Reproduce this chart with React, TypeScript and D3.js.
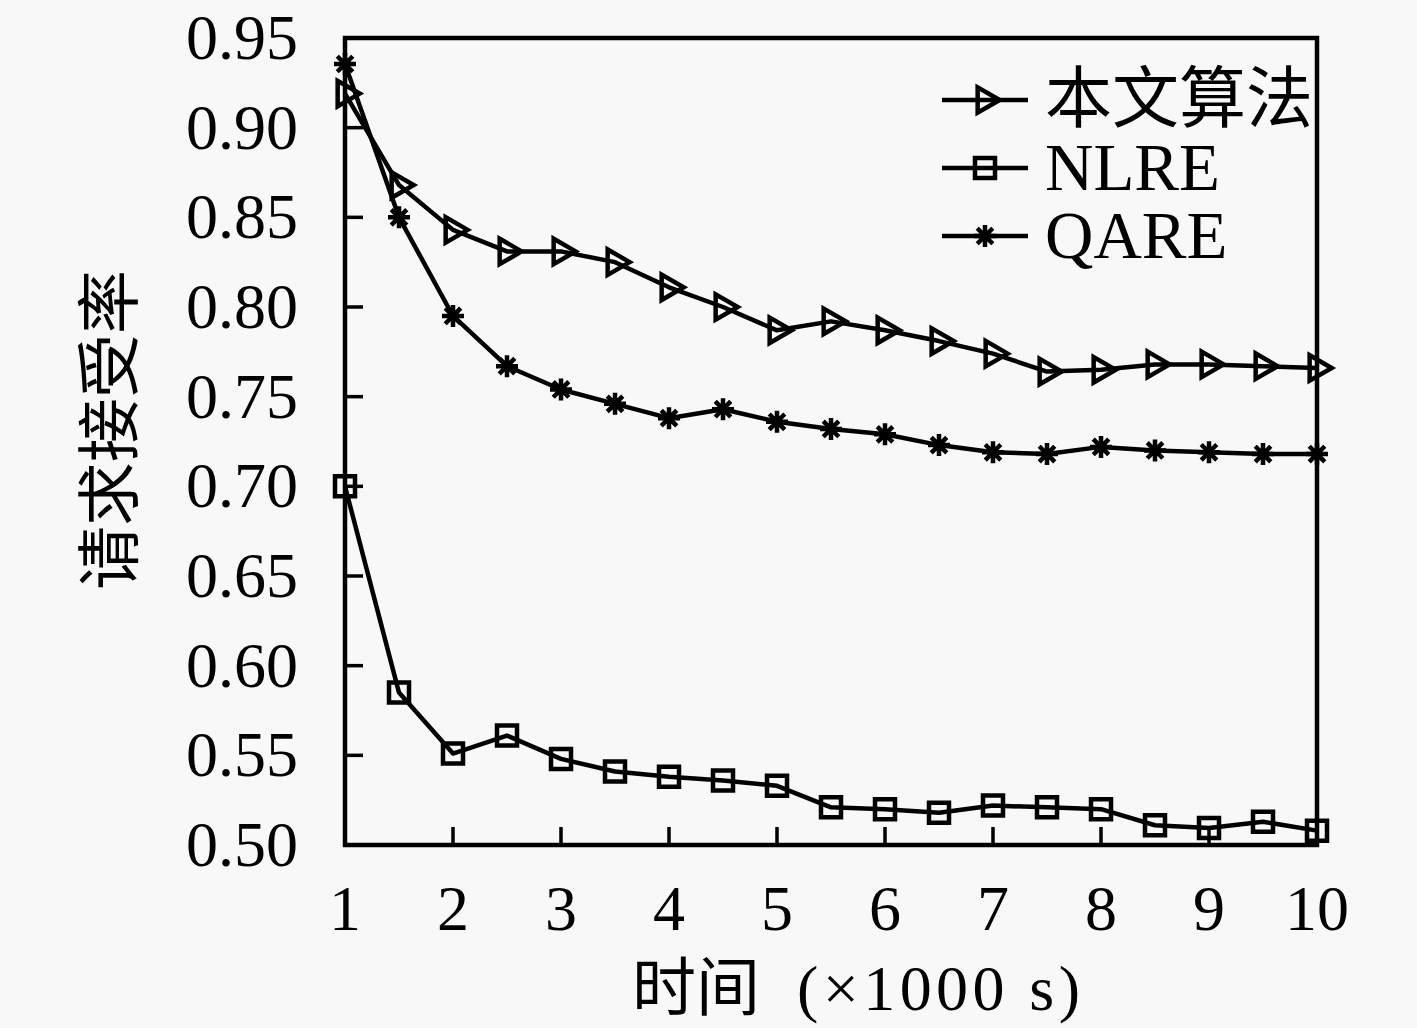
import React from "react";
import * as d3 from "d3";

const xs = [1, 1.5, 2, 2.5, 3, 3.5, 4, 4.5, 5, 5.5, 6, 6.5, 7, 7.5, 8, 8.5, 9, 9.5, 10];
const ours = [0.919, 0.868, 0.843, 0.831, 0.831, 0.825, 0.811, 0.800, 0.787, 0.792, 0.787, 0.781, 0.774, 0.764, 0.765, 0.768, 0.768, 0.767, 0.766];
const nlre = [0.700, 0.585, 0.551, 0.561, 0.548, 0.541, 0.538, 0.536, 0.533, 0.521, 0.520, 0.518, 0.522, 0.521, 0.520, 0.511, 0.5095, 0.513, 0.508];
const qare = [0.9355, 0.850, 0.795, 0.767, 0.754, 0.746, 0.738, 0.743, 0.736, 0.732, 0.729, 0.723, 0.719, 0.718, 0.722, 0.720, 0.719, 0.718, 0.718];
const yTicks = [0.5, 0.55, 0.6, 0.65, 0.7, 0.75, 0.8, 0.85, 0.9, 0.95];
const xTicks = [1, 2, 3, 4, 5, 6, 7, 8, 9, 10];
const seriesNames = ["本文算法", "NLRE", "QARE"];
const seriesMarkers = ["triangle", "square", "star"];

const W = 1417, H = 1028;
const L = 345, R = 1317, T = 38, B = 845;
const BG = "#f8f8f8";
const FONT = "'Liberation Serif', 'Noto Sans CJK SC', serif";
const FS = 64;
const SW = 4.5;

const x = d3.scaleLinear().domain([1, 10]).range([L, R]);
const y = d3.scaleLinear().domain([0.5, 0.95]).range([B, T]);

const triPath = d3.symbol(d3.symbolTriangle, 280)() as string;
const sqPath = d3.symbol(d3.symbolSquare, 400)() as string;
const starPath = (() => {
  const r = 11;
  const p = d3.path();
  for (let i = 0; i < 4; i++) {
    const a = (i * Math.PI) / 4;
    p.moveTo(-r * Math.cos(a), -r * Math.sin(a));
    p.lineTo(r * Math.cos(a), r * Math.sin(a));
  }
  return p.toString();
})();

function Marker({ kind, cx, cy }: { kind: string; cx: number; cy: number }) {
  if (kind === "triangle")
    return <path d={triPath} transform={`translate(${cx},${cy}) rotate(90)`} fill="none" stroke="#000" strokeWidth={SW} />;
  if (kind === "square")
    return <path d={sqPath} transform={`translate(${cx},${cy})`} fill="none" stroke="#000" strokeWidth={SW} />;
  return <path d={starPath} transform={`translate(${cx},${cy})`} fill="none" stroke="#000" strokeWidth={4.5} />;
}

export default function App() {
  const series = [ours, nlre, qare];
  const line = d3
    .line<number>()
    .x((_, i) => x(xs[i]))
    .y((v) => y(v));
  const legendX = 942, legendY0 = 100, legendDy = 68;
  return (
    <div style={{ position: "absolute", left: 0, top: 0 }}>
      <svg width={W} height={H} style={{ display: "block", background: BG }} fontFamily={FONT}>
        <rect x={0} y={0} width={W} height={H} fill={BG} />
        <rect x={L} y={T} width={R - L} height={B - T} fill="none" stroke="#000" strokeWidth={SW} />
        {yTicks.map((t) => (
          <g key={"y" + t}>
            <line x1={L} x2={L + 18} y1={y(t)} y2={y(t)} stroke="#000" strokeWidth={3.5} />
            <text x={298} y={y(t) + 21} textAnchor="end" fontSize={FS} fill="#000">
              {t.toFixed(2)}
            </text>
          </g>
        ))}
        {xTicks.map((t) => (
          <g key={"x" + t}>
            <line x1={x(t)} x2={x(t)} y1={B} y2={B - 18} stroke="#000" strokeWidth={3.5} />
            <text x={x(t)} y={930} textAnchor="middle" fontSize={FS} fill="#000">
              {t}
            </text>
          </g>
        ))}
        <text x={632} y={1010} fontSize={FS} fill="#000">
          时间
        </text>
        <text x={797} y={1010} fontSize={FS} fill="#000" textLength={283} lengthAdjust="spacing">
          (×1000 s)
        </text>
        <text
          transform="translate(110,430) rotate(-90)"
          textAnchor="middle"
          dominantBaseline="central"
          fontSize={FS}
          fill="#000"
        >
          请求接受率
        </text>
        {series.map((s, si) => (
          <g key={"s" + si}>
            <path d={line(s) as string} fill="none" stroke="#000" strokeWidth={SW} strokeLinejoin="round" />
            {s.map((v, i) => (
              <Marker key={i} kind={seriesMarkers[si]} cx={x(xs[i])} cy={y(v)} />
            ))}
          </g>
        ))}
        {seriesNames.map((n, i) => {
          const ly = legendY0 + i * legendDy;
          return (
            <g key={"l" + i}>
              <line x1={legendX} x2={legendX + 86} y1={ly} y2={ly} stroke="#000" strokeWidth={SW} />
              <Marker kind={seriesMarkers[i]} cx={legendX + 43} cy={ly} />
              <text x={1045} y={ly + 22} fontSize={67} fill="#000">
                {n}
              </text>
            </g>
          );
        })}
      </svg>
    </div>
  );
}
